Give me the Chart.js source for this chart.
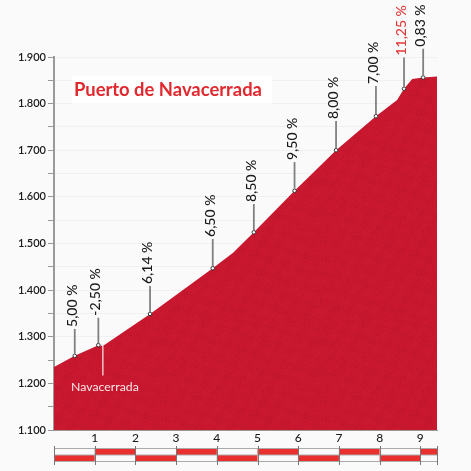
<!DOCTYPE html>
<html><head><meta charset="utf-8">
<style>html,body{margin:0;padding:0;background:#fafafa}canvas{display:block}</style>
<script src="https://cdn.jsdelivr.net/npm/chart.js@4"></script>
</head><body><div style="width:471px;height:471px;position:relative"><canvas id="c"></canvas></div>
<script>
const title = "Puerto de Navacerrada";
const placeName = "Navacerrada";
const profileKm = [0,0.51,1.09,1.2,2.36,3.9,4.4,4.91,5.91,6.36,6.93,7.91,8.43,8.6,8.8,9.07,9.41];
const profileEle = [1235,1259,1282,1280,1349,1447,1480,1524,1613,1651,1700,1773,1808,1832,1853,1856,1858];
const markerKm = [0.51,1.09,2.36,3.9,4.91,5.91,6.93,7.91,8.6,9.07];
const markerEle = [1259,1282,1349,1447,1524,1613,1700,1773,1832,1856];
const gradeLabels = ["5,00 %","-2,50 %","6,14 %","6,50 %","8,50 %","9,50 %","8,00 %","7,00 %","11,25 %","0,83 %"];
const labelEle = [1321,1345,1413,1514,1589,1679,1767,1842,1903,1922];
const steepIndex = 8;
const kmEdges = [0,1,2,3,4,5,6,7,8,9,9.41];
const RED="#c8182f", FONT="Lato, 'Open Sans', sans-serif";

function texture(){
  const s=160,c=document.createElement('canvas');c.width=c.height=s;const g=c.getContext('2d');
  g.fillStyle=RED;g.fillRect(0,0,s,s);
  for(let y=0;y<s;y++)for(let x=0;x<s;x++){
    const v=Math.sin(x*12.9898+y*78.233)*43758.5453, n=v-Math.floor(v);
    const w=Math.sin(x*.37+y*.21)+Math.sin(x*.13-y*.41);
    const a=(n-.5)*.12+w*.015;
    g.fillStyle=a>0?`rgba(255,40,70,${a})`:`rgba(90,0,20,${-a})`;
    g.fillRect(x,y,1,1);
  }
  return g.createPattern(c,'repeat');
}

const decor={id:'decor',
 afterDatasetsDraw(ch){
  const g=ch.ctx,x=ch.scales.x,y=ch.scales.y;
  g.save();
  markerKm.forEach((k,i)=>{
    const px=x.getPixelForValue(k),py=y.getPixelForValue(markerEle[i]),ty=y.getPixelForValue(labelEle[i]);
    g.strokeStyle="#808080";g.lineWidth=1.8;
    g.beginPath();g.moveTo(px,py-2);g.lineTo(px,ty+2);g.stroke();
    g.save();g.translate(px+2,ty);g.rotate(-Math.PI/2);
    g.font="500 14px "+FONT;g.fillStyle=i===steepIndex?"#e03a3a":"#1a1a1a";
    g.textAlign="left";g.textBaseline="alphabetic";g.fillText(gradeLabels[i],0,0);g.restore();
  });
  const mx=x.getPixelForValue(profileKm[3]);
  g.strokeStyle="#f4c4c8";g.lineWidth=1.5;g.beginPath();
  g.moveTo(mx,y.getPixelForValue(profileEle[3]));g.lineTo(mx,y.getPixelForValue(1217));g.stroke();
  g.font="12.3px "+FONT;g.fillStyle="#fbeaea";g.textAlign="left";g.textBaseline="alphabetic";
  g.fillText(placeName,x.getPixelForValue(0.42),y.getPixelForValue(1183));
  const tl=x.getPixelForValue(0.44),tt=y.getPixelForValue(1860);
  g.fillStyle="#fff";g.fillRect(tl,tt,200,28);
  g.font="bold 18.4px "+FONT;g.fillStyle="#e0282e";g.fillText(title,tl+2,tt+20);
  const T=449,M=455,B=461;
  kmEdges.slice(0,-1).forEach((k,i)=>{
    const a=x.getPixelForValue(k),b=x.getPixelForValue(kmEdges[i+1]);
    g.fillStyle="#e9302e";g.fillRect(a,i%2?T:M,b-a,6);
  });
  const L=x.getPixelForValue(0),R=x.getPixelForValue(kmEdges[kmEdges.length-1]);
  g.strokeStyle="#aaa";g.lineWidth=1;
  [T-.5,M,B+.5].forEach(v=>{g.beginPath();g.moveTo(L,v);g.lineTo(R,v);g.stroke();});
  g.strokeStyle="#777";
  kmEdges.forEach(k=>{const p=Math.round(x.getPixelForValue(k))+.5;g.beginPath();g.moveTo(p,446);g.lineTo(p,465);g.stroke();});
  g.restore();
 }};

new Chart(document.getElementById('c'),{
 type:'line',plugins:[decor],
 data:{datasets:[
  {data:markerKm.map((k,i)=>({x:k,y:markerEle[i]})),showLine:false,pointRadius:1.8,pointBackgroundColor:"#fff",pointBorderColor:"#333",pointBorderWidth:1,order:0},
  {data:profileKm.map((k,i)=>({x:k,y:profileEle[i]})),borderWidth:0,pointRadius:0,tension:0,fill:'origin',backgroundColor:texture(),order:1}
 ]},
 options:{responsive:true,maintainAspectRatio:false,animation:false,
  layout:{padding:{left:0,top:57,right:34,bottom:0}},
  plugins:{legend:{display:false},tooltip:{enabled:false}},
  scales:{
   x:{type:'linear',min:0,max:9.41,afterFit(s){s.height=41;},
     border:{color:"#999",width:1},grid:{display:false,drawTicks:false,tickLength:0},
     ticks:{stepSize:1,includeBounds:false,maxRotation:0,autoSkip:false,padding:1,color:"#1a1a1a",font:{family:FONT,size:12,weight:'500'},
       callback:v=>v===0?'':String(v)}},
   y:{min:1100,max:1900,afterFit(s){s.width=54;},
     border:{color:"#999",width:2},
     grid:{color:"#f0f0f0",lineWidth:1,tickColor:"#999",tickLength:6},
     ticks:{stepSize:50,autoSkip:false,padding:2,color:"#1a1a1a",font:{family:FONT,size:11,weight:'600'},
       callback:v=>v%100===0?(v/1000).toFixed(3):''}}
  }}
});
</script></body></html>
